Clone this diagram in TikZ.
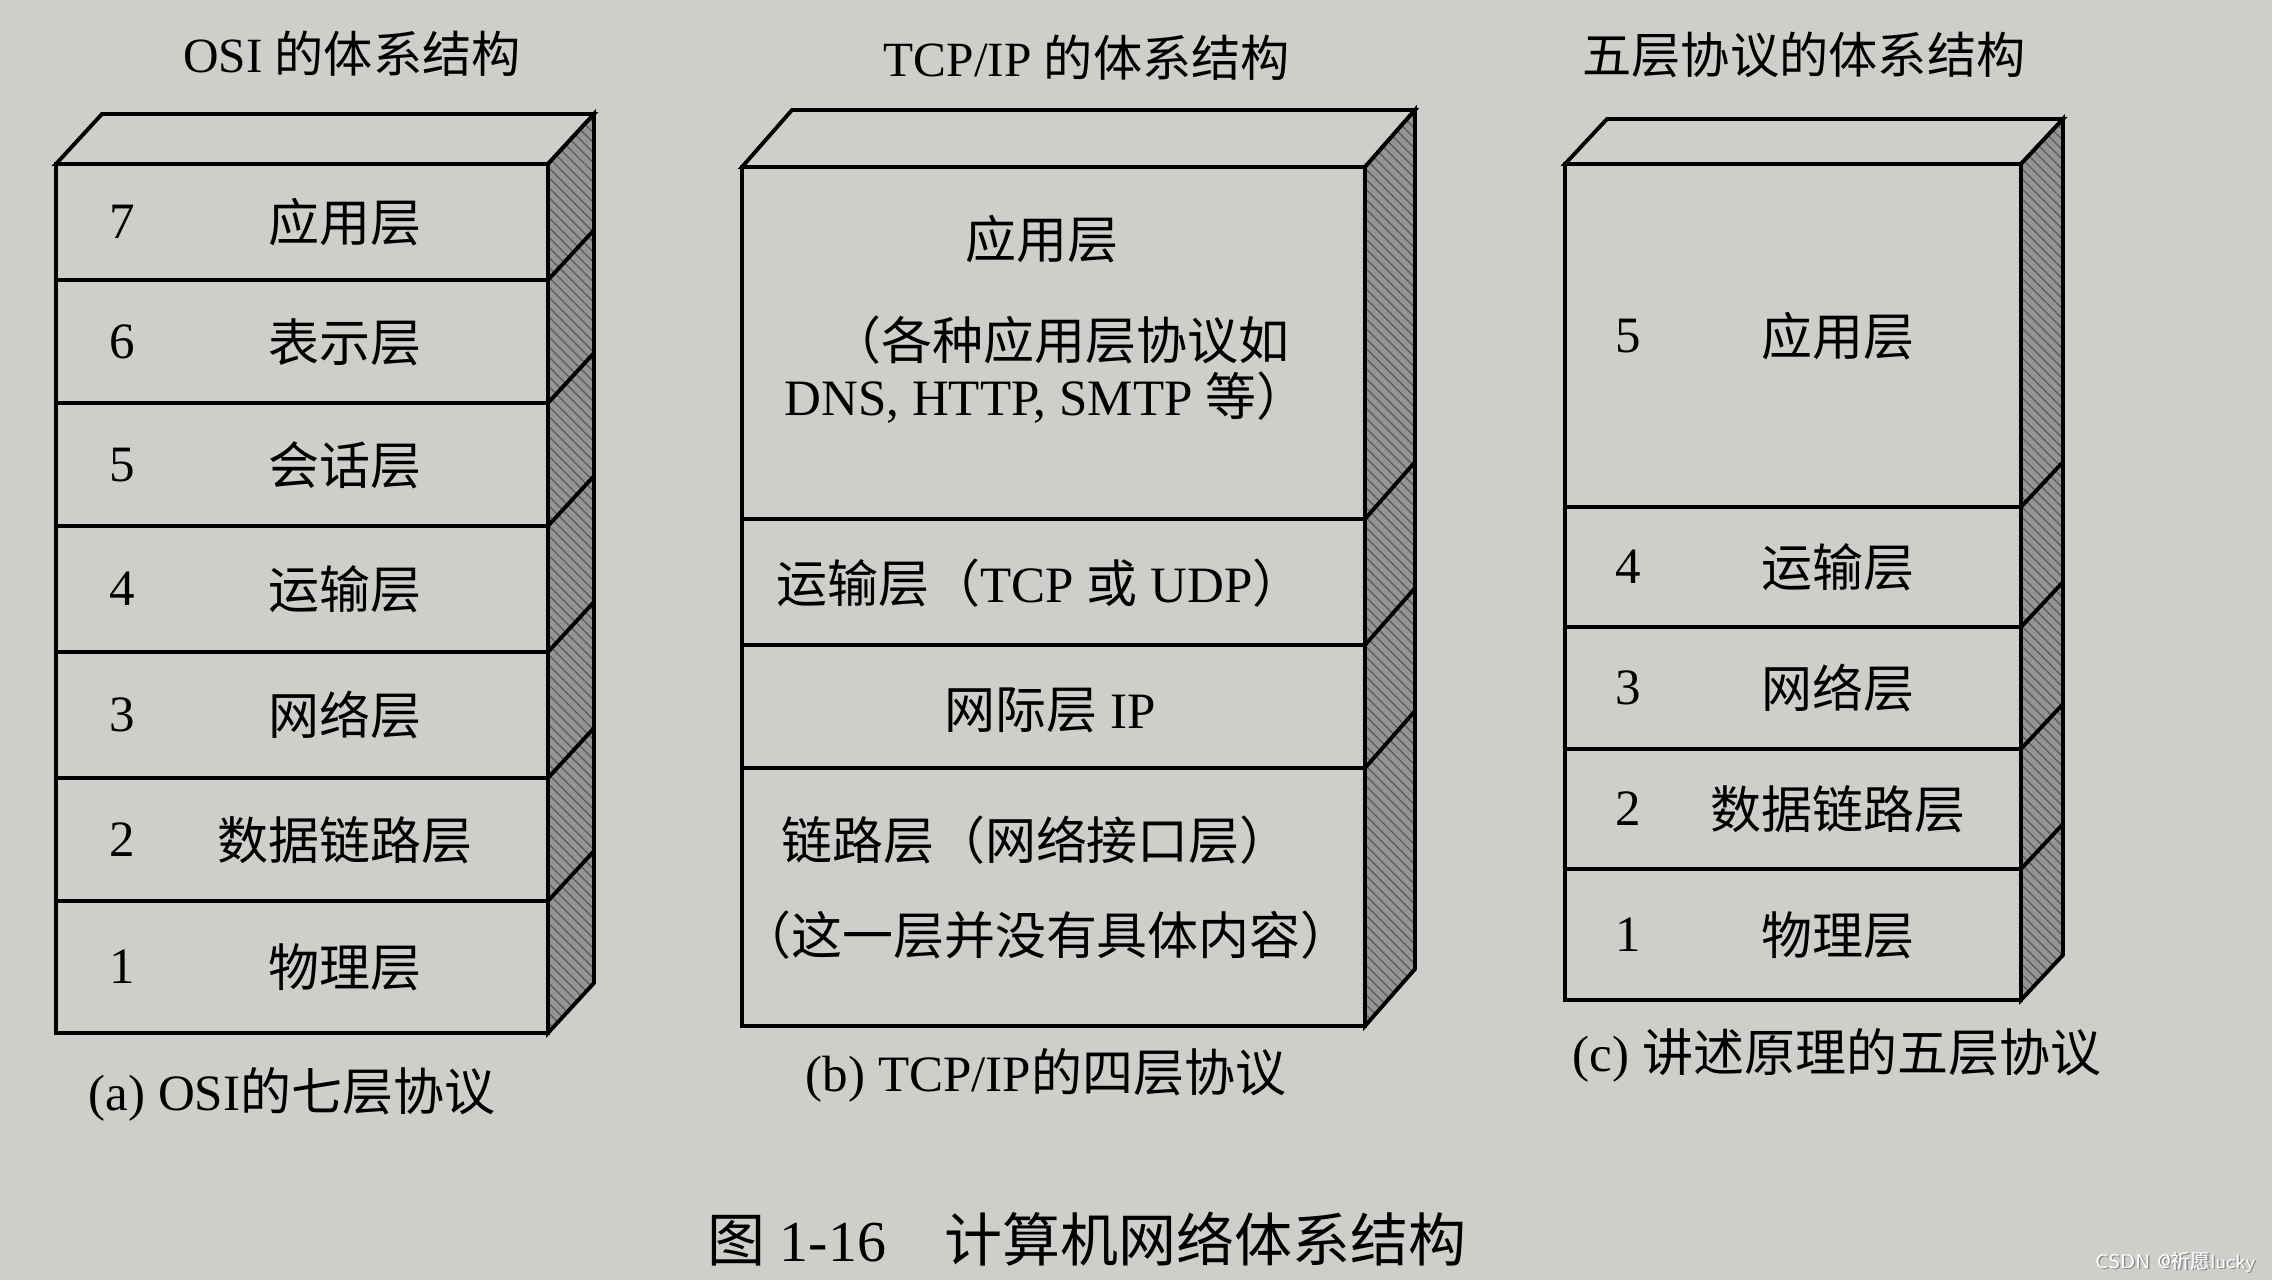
\documentclass[tikz,border=0pt]{standalone}
\usepackage{fontspec}
\setmainfont{Liberation Serif}
\newfontfamily\cjk{Noto Sans CJK SC}
\usetikzlibrary{patterns.meta}
\definecolor{paper}{RGB}{208,206,203}
\definecolor{sidegray}{RGB}{150,148,146}
\newcommand{\zh}[1]{{\cjk #1}}
\tikzset{
  edge/.style={line width=1.1pt, line join=miter},
  sideface/.style={edge, preaction={fill=sidegray},
    pattern={Lines[angle=-45,distance=2pt,line width=0.35pt]}, pattern color=black!65},
  lab/.style={font=\fontsize{14.5}{17}\selectfont, inner sep=0pt, anchor=center},
  numlab/.style={font=\fontsize{14.5}{17}\selectfont, inner sep=0pt, anchor=center},
  ttl/.style={font=\fontsize{14}{17}\selectfont, inner sep=0pt, anchor=center},
  captext/.style={font=\fontsize{14.5}{17}\selectfont, inner sep=0pt, anchor=center},
  figcap/.style={font=\fontsize{16.5}{20}\selectfont, inner sep=0pt, anchor=center},
  wm/.style={font=\sffamily\fontsize{5.6}{7}\selectfont, text=white, inner sep=0pt, anchor=east}
}
% #1 xl, #2 xr, #3 yt, #4 yb, #5 dx, #6 dy, #7 inner boundaries
\newcommand{\stackbox}[7]{%
  \fill[paper] (#1,#3) rectangle (#2,#4);
  \filldraw[edge, fill=paper] (#1,#3) -- (#1+#5,#3-#6) -- (#2+#5,#3-#6) -- (#2,#3) -- cycle;
  \draw[sideface] (#2,#3) -- (#2+#5,#3-#6) -- (#2+#5,#4-#6) -- (#2,#4) -- cycle;
  \draw[edge] (#1,#3) rectangle (#2,#4);
  \foreach \b in {#7} { \draw[edge] (#1,\b) -- (#2,\b) -- (#2+#5,\b-#6); }
}
\begin{document}
\begin{tikzpicture}[x=0.01cm, y=-0.01cm]
\useasboundingbox (0,0) rectangle (2272,1280);
\fill[paper] (0,0) rectangle (2272,1280);

% titles
\node[ttl] (t1) at (352,54) {OSI \zh{的体系结构}};
\node[ttl] (t2) at (1087,58) {TCP/IP \zh{的体系结构}};
\node[ttl] (t3) at (1804,55) {\zh{五层协议的体系结构}};

% (a) OSI
\stackbox{56}{548}{164}{1033}{46}{50}{280,403,526,652,778,901}
\node[numlab] (a7n) at (122,222) {7};   \node[lab] (a7) at (345,222) {\zh{应用层}};
\node[numlab] (a6n) at (122,342) {6};   \node[lab] (a6) at (345,342) {\zh{表示层}};
\node[numlab] (a5n) at (122,465) {5};   \node[lab] (a5) at (345,465) {\zh{会话层}};
\node[numlab] (a4n) at (122,589) {4};   \node[lab] (a4) at (345,589) {\zh{运输层}};
\node[numlab] (a3n) at (122,715) {3};   \node[lab] (a3) at (345,715) {\zh{网络层}};
\node[numlab] (a2n) at (122,840) {2};   \node[lab] (a2) at (345,840) {\zh{数据链路层}};
\node[numlab] (a1n) at (122,967) {1};   \node[lab] (a1) at (345,967) {\zh{物理层}};
\node[captext] (capa) at (292,1094) {(a) OSI\zh{的七层协议}};

% (b) TCP/IP
\stackbox{742}{1365}{167}{1026}{50}{57}{519,645,768}
\node[lab] (b4) at (1042,239) {\zh{应用层}};
\node[lab] (b4x) at (1060,340) {\zh{（各种应用层协议如}};
\node[lab] (b4y) at (1046,398) {DNS, HTTP, SMTP \zh{等）}};
\node[lab] (b3) at (1040,583) {\zh{运输层（}TCP \zh{或} UDP\zh{）}};
\node[lab] (b2) at (1050,710) {\zh{网际层} IP};
\node[lab] (b1) at (1036,840) {\zh{链路层（网络接口层）}};
\node[lab] (b1x) at (1046,935) {\zh{（这一层并没有具体内容）}};
\node[captext] (capb) at (1046,1075) {(b) TCP/IP\zh{的四层协议}};

% (c) five layers
\stackbox{1565}{2021}{164}{1000}{42}{45}{507,627,749,869}
\node[numlab] (c5n) at (1628,336) {5};  \node[lab] (c5) at (1838,336) {\zh{应用层}};
\node[numlab] (c4n) at (1628,567) {4};  \node[lab] (c4) at (1838,567) {\zh{运输层}};
\node[numlab] (c3n) at (1628,688) {3};  \node[lab] (c3) at (1838,688) {\zh{网络层}};
\node[numlab] (c2n) at (1628,809) {2};  \node[lab] (c2) at (1838,809) {\zh{数据链路层}};
\node[numlab] (c1n) at (1628,935) {1};  \node[lab] (c1) at (1838,935) {\zh{物理层}};
\node[captext] (capc) at (1837,1055) {(c) \zh{讲述原理的五层协议}};

% figure caption
\node[figcap] (fig) at (1087,1239) {\zh{图} 1-16\hspace{1em}\zh{计算机网络体系结构}};

% watermark
\node[wm, text=black!45] (wmS) at (2257.5,1263.5) {CSDN @\zh{祈愿}lucky};
\node[wm] (wmk) at (2256,1262) {CSDN @\zh{祈愿}lucky};
\end{tikzpicture}
\end{document}
